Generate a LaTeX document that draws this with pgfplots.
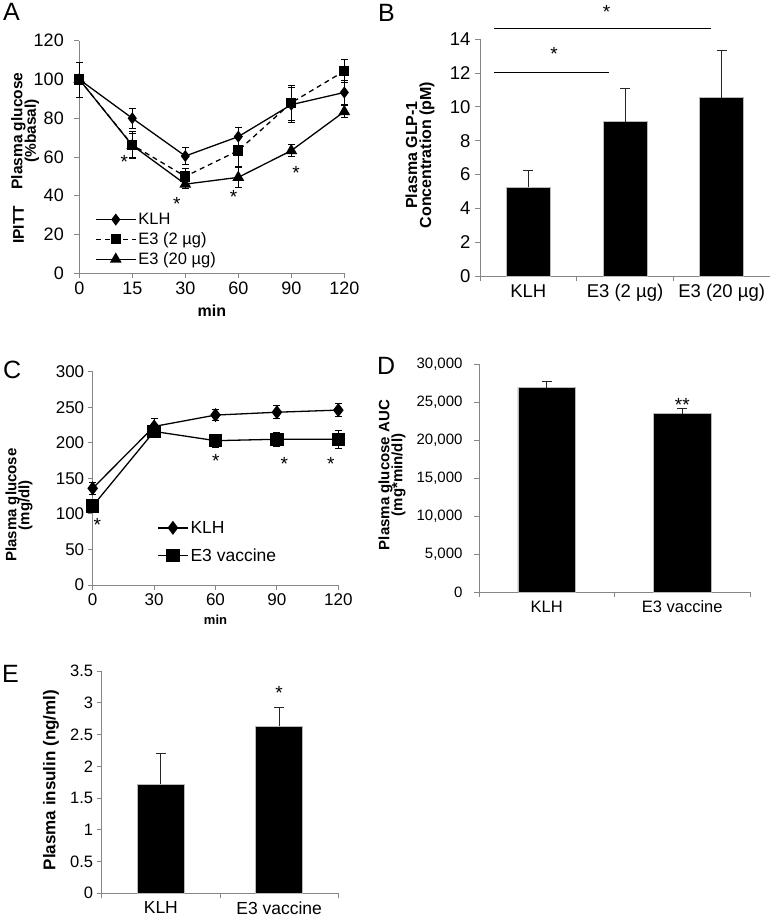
\documentclass[border=0pt]{standalone}
\usepackage{fontspec}
\setmainfont{Liberation Sans}
\usepackage{pgfplots}
\pgfplotsset{compat=1.18}

\definecolor{axgray}{RGB}{134,134,134}
\newcommand{\fs}[1]{\fontsize{#1}{#1}\selectfont}

\pgfplotsset{
  panel/.style={
    scale only axis,
    anchor=south west,
    axis x line*=bottom,
    axis y line*=left,
    axis line style={draw=axgray, line width=0.9pt, -},
    tick style={draw=axgray, line width=0.9pt},
    tick align=outside,
    major tick length=5pt,
    minor tick length=5pt,
    ymin=0,
    clip=false,
    /pgf/number format/assume math mode=true,
    scaled y ticks=false,
  },
  barpanel/.style={
    panel,
    xmin=-0.5,
    major x tick style={draw=none},
  },
  barplot/.style={
    ybar, fill=black, draw=gray!55, line width=0.6pt, bar width=#1,
    error bars/y dir=plus, error bars/y explicit,
    error bars/error bar style={black!85, line width=1pt},
    error bars/error mark=|,
    error bars/error mark options={black!85, mark size=5pt, line width=1pt},
  },
  linerr/.style={
    error bars/y dir=both, error bars/y explicit,
    error bars/error bar style={black, line width=0.8pt, solid},
    error bars/error mark=|,
    error bars/error mark options={black, mark size=3.5pt, line width=0.8pt, solid},
  },
}
\tikzset{
  star/.style={font=\fs{19}, anchor=base, yshift=-10.9pt, inner sep=0pt},
  plab/.style={font=\fs{25}, anchor=north west, inner sep=0pt},
}

\begin{document}
\begin{tikzpicture}
\useasboundingbox (0,0) rectangle (770pt,-921pt);

% ---------------- A
\node[plab] at (3pt,-3pt) {A};
\node[rotate=90, font=\fs{15.5}\bfseries, align=center] at (25pt,-131pt) {Plasma glucose\\[-2pt](\%basal)};
\node[rotate=90, font=\fs{15.5}\bfseries] at (18.5pt,-225pt) {IPITT};
\begin{axis}[panel,
  at={(79.3pt,-273.3pt)}, width=265pt, height=232.6pt,
  xmin=0, xmax=5, ymax=120,
  xtick={0,...,5}, xticklabels={0,15,30,60,90,120},
  ytick={0,20,...,120},
  tick label style={font=\fs{18}},
  yticklabel style={xshift=-7pt},
  xlabel={min}, xlabel style={font=\fs{16}\bfseries, at={(axis description cs:0.5,0)}, anchor=north, inner sep=0pt, yshift=-31pt},
  legend style={at={(0.059,0.268)}, anchor=north west, draw=none, fill=none, font=\fs{16.5}, inner sep=0pt, row sep=2.5pt},
  legend cell align=left,
  legend image code/.code={\draw[mark repeat=2, mark phase=2] plot coordinates {(0pt,0pt) (20pt,0pt) (40pt,0pt)};},
]
\addplot[black, line width=1.3pt, mark=diamond*, mark size=5pt, linerr] coordinates {
  (0,100) +- (0,0) (1,80) +- (0,5) (2,60.5) +- (0,4.5) (3,70.5) +- (0,5) (4,87) +- (0,9) (5,93.3) +- (0,6)};
\addlegendentry{KLH}
\addplot[black, line width=1.3pt, dash pattern=on 5pt off 4pt, mark=square*, mark size=4.5pt, mark options={solid}, linerr] coordinates {
  (0,100) +- (0,9) (1,66.2) +- (0,7) (2,50) +- (0,4) (3,63.3) +- (0,8) (4,88) +- (0,9) (5,104.3) +- (0,6)};
\addlegendentry{E3 (2 µg)}
\addplot[black, line width=1.3pt, mark=triangle*, mark size=5.5pt, linerr] coordinates {
  (0,100) +- (0,0) (1,66) +- (0,6) (2,46) +- (0,2) (3,49.5) +- (0,5) (4,63.3) +- (0,3) (5,83.4) +- (0,3)};
\addlegendentry{E3 (20 µg)}
\node[star] at (axis cs:0.85,59.6) {*};
\node[star] at (axis cs:1.84,37.8) {*};
\node[star] at (axis cs:2.91,41.8) {*};
\node[star] at (axis cs:4.09,54.2) {*};
\end{axis}

% ---------------- B
\node[plab] at (378pt,-4pt) {B};
\node[rotate=90, font=\fs{16}\bfseries, align=center] at (420pt,-155pt) {Plasma GLP-1\\[-2pt]Concentration (pM)};
\begin{axis}[barpanel,
  at={(480pt,-276pt)}, width=290pt, height=236.7pt,
  xmax=2.5, ymax=14,
  xtick={0,1,2}, xticklabels={KLH, E3 (2 µg), E3 (20 µg)},
  minor xtick={-0.5,0.5,1.5,2.5},
  ytick={0,2,...,14},
  tick label style={font=\fs{18.5}},
  yticklabel style={xshift=-1pt},
]
\addplot[barplot=0.455] coordinates {(0,5.25) +- (0,0.98) (1,9.13) +- (0,1.97) (2,10.55) +- (0,2.78)};
\draw[black, line width=1pt] (axis cs:-0.355,12.05) -- (axis cs:0.834,12.05);
\draw[black, line width=1pt] (axis cs:-0.355,14.63) -- (axis cs:1.89,14.63);
\node[star] at (axis cs:0.265,13.4) {*};
\node[star] at (axis cs:0.81,15.9) {*};
\end{axis}

% ---------------- C
\node[plab] at (3pt,-361pt) {C};
\node[rotate=90, font=\fs{15}\bfseries, align=center] at (19pt,-505pt) {Plasma glucose\\[-2pt](mg/dl)};
\begin{axis}[panel,
  at={(92.7pt,-585pt)}, width=245.6pt, height=213.3pt,
  xmin=0, xmax=120, ymax=300,
  xtick={0,30,...,120}, ytick={0,50,...,300},
  tick label style={font=\fs{17}},
  xlabel={min}, xlabel style={font=\fs{13}\bfseries, at={(axis description cs:0.5,0)}, anchor=north, inner sep=0pt, yshift=-30pt},
  legend style={at={(0.262,0.31)}, anchor=north west, draw=none, fill=none, font=\fs{17.5}, inner sep=0pt, row sep=10pt},
  legend cell align=left,
  legend image code/.code={\draw[mark repeat=2, mark phase=2] plot coordinates {(0pt,0pt) (15pt,0pt) (30pt,0pt)};},
]
\addplot[black, line width=1.3pt, mark=diamond*, mark size=6pt, linerr] coordinates {
  (0,136) +- (0,8) (30,223) +- (0,12) (60,239) +- (0,8) (90,243) +- (0,9) (120,246) +- (0,9)};
\addlegendentry{KLH}
\addplot[black, line width=1.3pt, mark=square*, mark size=6pt, linerr] coordinates {
  (0,111) +- (0,8) (30,216) +- (0,5) (60,203) +- (0,9) (90,205) +- (0,10) (120,205) +- (0,13)};
\addlegendentry{E3 vaccine}
\node[star] at (axis cs:2.25,90.4) {*};
\node[star] at (axis cs:60.2,180.4) {*};
\node[star] at (axis cs:93.6,176.8) {*};
\node[star] at (axis cs:116.3,176.8) {*};
\end{axis}

% ---------------- D
\node[plab] at (377pt,-357pt) {D};
\node[rotate=90, font=\fs{15}\bfseries, align=center] at (392pt,-475pt) {Plasma glucose AUC\\[-2pt](mg*min/dl)};
\begin{axis}[barpanel,
  at={(479pt,-592.3pt)}, width=271pt, height=228.3pt,
  xmax=1.5, ymax=30000,
  xtick={0,1}, xticklabels={KLH, E3 vaccine},
  minor xtick={-0.5,0.5,1.5},
  ytick={0,5000,...,30000},
  yticklabel style={font=\fs{15}, xshift=-8pt, /pgf/number format/1000 sep={,}},
  xticklabel style={font=\fs{16.5}},
]
\addplot[barplot=0.426] coordinates {(0,26890) +- (0,870) (1,23470) +- (0,660)};
\node[star] at (axis cs:1,25230) {**};
\end{axis}

% ---------------- E
\node[plab] at (2pt,-665pt) {E};
\node[rotate=90, font=\fs{17}\bfseries] at (51pt,-780pt) {Plasma insulin (ng/ml)};
\begin{axis}[barpanel,
  at={(101.7pt,-893.3pt)}, width=236.6pt, height=222.3pt,
  xmax=1.5, ymax=3.5,
  xtick={0,1}, xticklabels={KLH, E3 vaccine},
  minor xtick={-0.5,0.5,1.5},
  ytick={0,0.5,1,1.5,2,2.5,3,3.5},
  yticklabel style={font=\fs{16.5}},
  xticklabel style={font=\fs{17.5}},
]
\addplot[barplot=0.395] coordinates {(0,1.72) +- (0,0.48) (1,2.63) +- (0,0.29)};
\node[star] at (axis cs:1,3.23) {*};
\end{axis}
\end{tikzpicture}
\end{document}
